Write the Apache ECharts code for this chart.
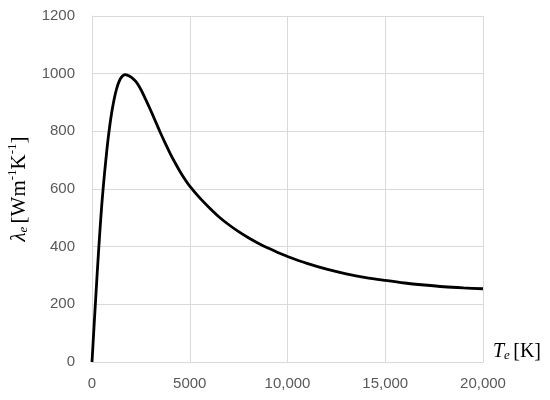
<!DOCTYPE html>
<html>
<head>
<meta charset="utf-8">
<script src="https://cdn.jsdelivr.net/npm/echarts@6/dist/echarts.min.js"></script>
<style>html,body{margin:0;padding:0;background:#fff}#c{width:550px;height:400px}</style>
</head>
<body>
<div id="c"></div>
<script>
const temperatures = [0,100,200,300,400,500,600,700,800,900,1000,1100,1200,1300,1400,1500,1600,1700,1800,2000,2250,2500,2750,3000,3250,3500,3750,4000,4250,4500,4750,5000,5500,6000,6500,7000,7500,8000,8500,9000,9500,10000,11000,12000,13000,14000,15000,16000,17000,18000,19000,20000];
const conductivity = [0,118,233,345,450,545,625,695,760,815,862,900,932,957,975,987,994,997,995,988,972,945,910,873,834,795,758,723,691,661,634,610,570,535,503,476,452,431,412,395,380,366,342,322,306,293,283,274,267,261,257,254];
const xTicks = [0,5000,10000,15000,20000];
const xTickLabels = ['0','5000','10,000','15,000','20,000'];
const yTicks = [0,200,400,600,800,1000,1200];
const yTickLabels = ['0','200','400','600','800','1000','1200'];

const chart = echarts.init(document.getElementById('c'), null, {renderer:'canvas'});
const serif = '"Liberation Serif","DejaVu Serif",serif';
const sans = '"Liberation Sans",Arial,sans-serif';
chart.setOption({
  animation:false,
  grid:{left:92,right:67,top:16,bottom:38,containLabel:false,outerBoundsMode:'none'},
  xAxis:{
    type:'value',min:0,max:20000,interval:5000,
    axisLine:{show:true,lineStyle:{color:'#d9d9d9',width:1}},
    axisTick:{show:false},
    splitLine:{show:true,lineStyle:{color:'#d9d9d9',width:1}},
    axisLabel:{color:'#595959',fontSize:15,fontFamily:sans,margin:14,
      formatter:v=>{const i=xTicks.indexOf(v);return i>=0?xTickLabels[i]:'';}},
    name:'{it|T}{sub|e} {n|[K]}',
    nameLocation:'end',nameGap:10,
    nameTextStyle:{verticalAlign:'bottom',
      rich:{it:{fontFamily:serif,fontStyle:'italic',fontSize:20,color:'#000',lineHeight:22,verticalAlign:'bottom'},
            sub:{fontFamily:serif,fontStyle:'italic',fontSize:13,color:'#000',lineHeight:22,verticalAlign:'bottom'},
            n:{fontFamily:serif,fontSize:20,color:'#000',lineHeight:22,verticalAlign:'bottom'}}}
  },
  yAxis:{
    type:'value',min:0,max:1200,interval:200,
    axisLine:{show:true,lineStyle:{color:'#d9d9d9',width:1}},
    axisTick:{show:false},
    splitLine:{show:true,lineStyle:{color:'#d9d9d9',width:1}},
    axisLabel:{color:'#595959',fontSize:15,fontFamily:sans,margin:17,
      formatter:v=>{const i=yTicks.indexOf(v);return i>=0?yTickLabels[i]:'';}},
    name:'{it|λ}{sub|e} {n|[Wm}{sup|-1}{n|K}{sup|-1}{n|]}',
    nameLocation:'middle',nameRotate:90,nameGap:62,
    nameTextStyle:{
      rich:{it:{fontFamily:serif,fontStyle:'italic',fontSize:21,color:'#000',lineHeight:24,verticalAlign:'bottom'},
            sub:{fontFamily:serif,fontStyle:'italic',fontSize:13,color:'#000',lineHeight:24,verticalAlign:'bottom'},
            sup:{fontFamily:serif,fontSize:13,color:'#000',lineHeight:24,verticalAlign:'top'},
            n:{fontFamily:serif,fontSize:21,color:'#000',lineHeight:24,verticalAlign:'bottom'}}}
  },
  series:[{
    type:'line',
    data:temperatures.map((t,i)=>[t,conductivity[i]]),
    smooth:0.3,
    showSymbol:false,
    lineStyle:{color:'#000',width:2.8},
    z:3
  }]
});
</script>
</body>
</html>
